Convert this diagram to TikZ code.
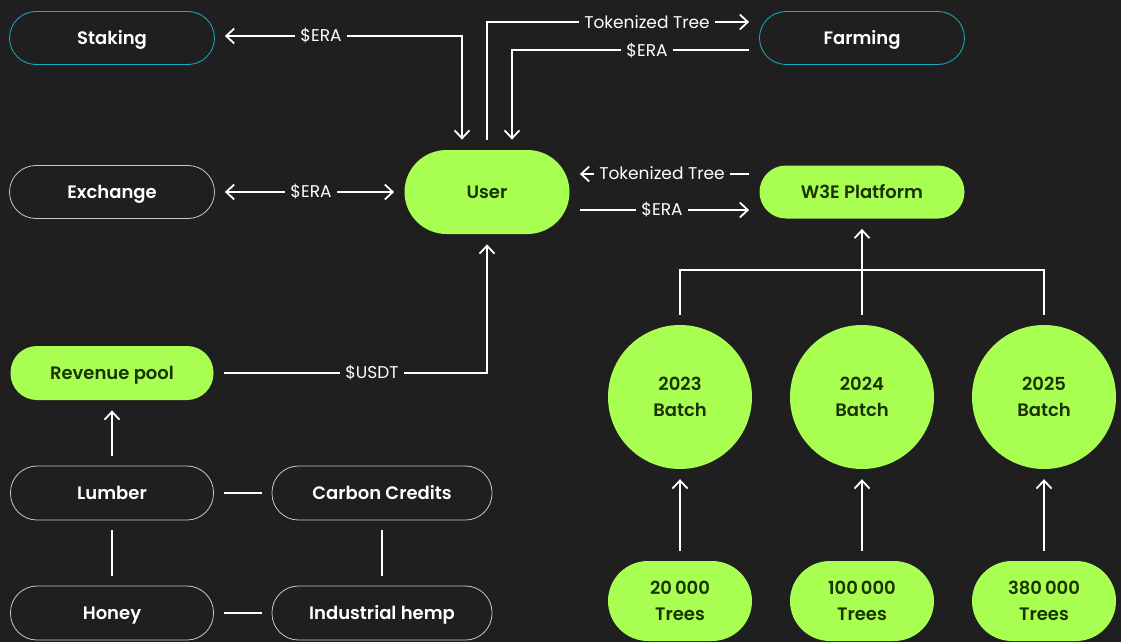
\documentclass[tikz,border=0pt]{standalone}
\usepackage{fontspec}
\setmainfont{Poppins}[BoldFont={Poppins SemiBold}]
\usetikzlibrary{arrows, arrows.meta}
\usetikzlibrary{positioning}
\usepackage{xcolor}

\definecolor{bgdark}{HTML}{1F1F1F}
\definecolor{lime}{HTML}{A8FF52}
\definecolor{limetext}{HTML}{1A3300}
\definecolor{tealline}{HTML}{1AAFC0}
\definecolor{pillgrey}{HTML}{C8C8C8}

\tikzset{
	>={Straight Barb[length=8pt,width=15pt]},
	basepill/.style={draw=pillgrey, line width=0.8pt, rounded corners=26.5pt, minimum width=205pt, minimum height=53pt, inner sep=0pt, text=white, font=\fontsize{18}{26}\selectfont\bfseries},
	pill/.style={basepill, text height=12.8pt, text depth=0pt},
	tealpill/.style={pill, draw=tealline},
	greenpill/.style={pill, draw=none, fill=lime, text=limetext},
	batch/.style={circle, fill=lime, text=limetext, minimum size=144pt, inner sep=0pt, align=center, font=\fontsize{18}{26}\selectfont\bfseries},
	trees/.style={basepill, draw=none, fill=lime, text=limetext, minimum width=144pt, minimum height=80pt, rounded corners=40pt, align=center},
	link/.style={draw=white, line width=1.8pt, shorten <=10pt, shorten >=10pt},
	lbl/.style={fill=bgdark, text=white, inner xsep=5pt, inner ysep=2pt, font=\fontsize{17}{20}\selectfont}
}

\begin{document}
\begin{tikzpicture}[x=1pt, y=-1pt] % token flow
	
	%background
	\fill[bgdark] (0,0) rectangle (1121,642);
	\useasboundingbox (0,0) rectangle (1121,642);
	
	%top row
	\node[tealpill] (stak) at (112,38) {Staking};
	\node[tealpill] (farm) at (862,38) {Farming};
	\node[pill] (exch) at (112,192) {Exchange};
	\node[greenpill, minimum width=165pt, minimum height=84pt, rounded corners=42pt] (user) at (487,192) {User};
	\node[greenpill] (w3e) at (862,192) {W3E Platform};
	
	%revenue side
	\node[greenpill, minimum width=203pt, minimum height=54pt] (rev) at (112,373) {Revenue pool};
	\node[pill, minimum width=203pt, minimum height=54pt] (lumb) at (112,493) {Lumber};
	\node[pill, minimum width=220pt, minimum height=54pt] (carb) at (382,493) {Carbon Credits};
	\node[pill, minimum width=203pt, minimum height=54pt] (hon) at (112,613) {Honey};
	\node[pill, minimum width=220pt, minimum height=54pt] (hemp) at (382,613) {Industrial hemp};
	
	%batches
	\node[batch] (b23) at (680,397) {2023\\Batch};
	\node[batch] (b24) at (862,397) {2024\\Batch};
	\node[batch] (b25) at (1044,397) {2025\\Batch};
	\node[trees] (t23) at (680,601) {20\,000\\Trees};
	\node[trees] (t24) at (862,601) {100\,000\\Trees};
	\node[trees] (t25) at (1044,601) {380\,000\\Trees};
	\coordinate (bus) at (862,270);
	
	%arrows
	\draw[link, <->] ([xshift=-25pt]user.north) |- ([yshift=2pt]stak.east);
	\draw[link, ->] (user.north) |- ([yshift=16pt]farm.west);
	\draw[link, ->] ([yshift=-12pt]farm.west) -| ([xshift=25pt]user.north);
	\draw[link, <->] (exch.east) -- (user.west);
	\draw[link, ->] ([yshift=18pt]w3e.west) -- ([yshift=18pt]user.east);
	\draw[link, ->] ([yshift=-18pt]user.east) -- ([yshift=-18pt]w3e.west);
	\draw[link, ->] (rev.east) -| (user.south);
	\draw[link, ->] (lumb.north) -- (rev.south);
	\draw[link] (lumb.east) -- (carb.west);
	\draw[link] (lumb.south) -- (hon.north);
	\draw[link] (carb.south) -- (hemp.north);
	\draw[link] (hon.east) -- (hemp.west);
	\draw[link] (b23.north) |- (bus) -| (b25.north);
	\draw[link, ->] (b24.north) -- (w3e.south);
	\draw[link, ->] (t23.north) -- (b23.south);
	\draw[link, ->] (t24.north) -- (b24.south);
	\draw[link, ->] (t25.north) -- (b25.south);
	
	%labels
	\node[lbl] (lstak) at (321,36) {\$ERA};
	\node[lbl] (ltok1) at (647,22) {Tokenized Tree};
	\node[lbl] (lfarm) at (647,51) {\$ERA};
	\node[lbl] (lexch) at (311,192) {\$ERA};
	\node[lbl] (ltok2) at (662,173) {Tokenized Tree};
	\node[lbl] (lw3e) at (662,210) {\$ERA};
	\node[lbl] (lusdt) at (372,373) {\$USDT};
	
\end{tikzpicture}
\end{document}
